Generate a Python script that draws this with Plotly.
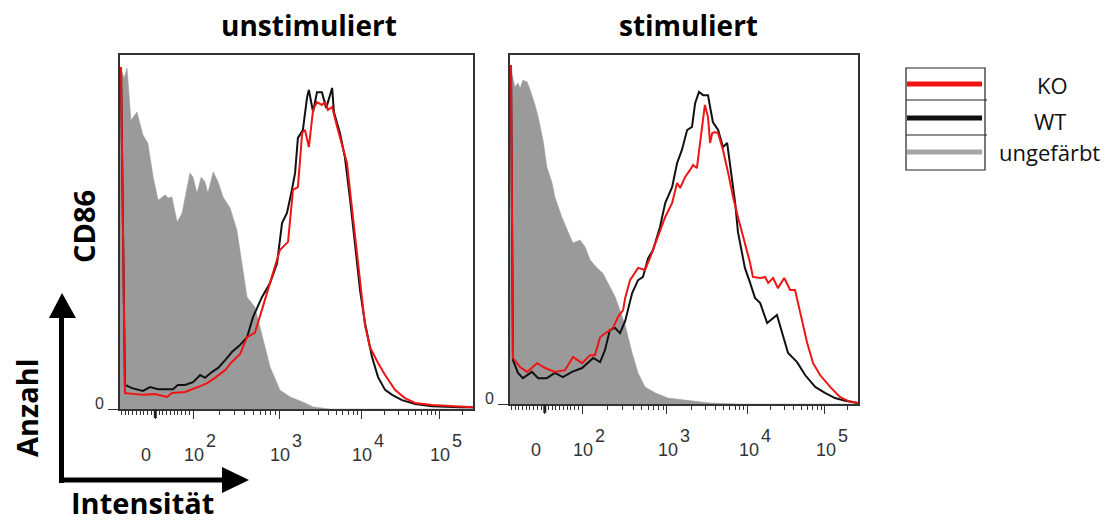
import math
import plotly.graph_objects as go

W, H = 1118, 524

# ---------------- data (x: logicle display channel 0..1000, y: % of max) ----------------
LEFT_GRAY_X = [0, 12, 20, 31, 48, 65, 79, 94, 108, 128, 136, 147, 162, 176, 198, 207, 218, 230, 241, 249,
               264, 278, 292, 312, 331, 340, 360, 382, 397, 411, 425, 453, 482, 518, 547, 595, 1000]
LEFT_GRAY_Y = [96.6, 93.5, 96.3, 81.6, 83.9, 77.4, 75.1, 65.5, 59.0, 60.5, 59.6, 59.9, 52.8, 55.4, 66.7, 65.5, 61.0,
               65.5, 64.1, 61.0, 67.0, 64.1, 59.9, 56.8, 50.6, 44.9, 31.6, 28.8, 23.2, 17.5, 11.9, 5.4, 3.4, 2.0,
               0.6, 0, 0]

LEFT_WT_X = [2.8, 14, 34, 65, 85, 108, 150, 164, 184, 207, 227, 241, 261, 278, 298, 317, 340, 360, 377, 402,
             425, 445, 459, 473, 487, 496, 504, 518, 530, 535, 547, 558, 572, 584, 601, 606, 623, 637, 652, 666,
             680, 694, 714, 731, 751, 771, 799, 836, 884, 963, 1000]
LEFT_WT_Y = [96.6, 6.8, 5.9, 5.1, 6.2, 5.6, 5.6, 6.8, 6.8, 7.6, 9.6, 8.8, 10.5, 11.6, 13.8, 16.1, 18.1, 20.3, 26.0,
             31.6, 35.6, 41.2, 52.5, 55.4, 61.9, 66.7, 76.6, 78.8, 88.1, 90.1, 83.9, 89.5, 89.5, 85.0, 90.7, 83.9,
             78.0, 71.2, 59.0, 45.8, 33.6, 24.3, 14.7, 9.0, 5.4, 4.0, 2.5, 1.4, 0.8, 0.5, 0.5]

LEFT_KO_X = [2.8, 14, 43, 65, 99, 133, 147, 184, 221, 247, 269, 298, 317, 340, 360, 382, 402, 425, 453, 476,
             490, 504, 516, 524, 535, 547, 558, 572, 581, 589, 601, 615, 623, 643, 660, 674, 694, 708, 731, 751,
             779, 807, 836, 884, 941, 1000]
LEFT_KO_Y = [96.6, 4.5, 4.2, 4.0, 4.2, 3.4, 4.5, 4.8, 6.2, 7.3, 8.8, 11.0, 13.3, 15.5, 20.3, 21.5, 28.0, 35.6,
             44.9, 47.2, 61.9, 62.7, 78.0, 78.8, 74.0, 84.5, 86.7, 85.9, 86.7, 84.5, 85.3, 79.7, 76.8, 69.5, 54.2,
             41.2, 23.7, 17.5, 13.0, 9.6, 5.4, 3.1, 1.7, 1.1, 0.8, 0.5]

RIGHT_GRAY_X = [0, 14, 23, 29, 37, 49, 58, 72, 81, 95, 106, 121, 129, 149, 167, 181, 201, 216, 230, 250,
                267, 282, 302, 316, 331, 351, 368, 388, 417, 454, 503, 575, 661, 1000]
RIGHT_GRAY_Y = [97.1, 90.8, 92.0, 90.5, 92.8, 92.3, 90.0, 85.7, 82.2, 75.6, 67.9, 63.3, 59.3, 53.6, 49.3, 46.1,
                47.0, 45.0, 41.3, 39.0, 37.5, 34.7, 30.7, 26.9, 22.6, 14.6, 8.9, 4.9, 3.2, 1.7, 1.1, 0.3, 0, 0]

RIGHT_WT_X = [2.9, 8.6, 23, 37, 63, 81, 106, 129, 152, 178, 207, 239, 259, 273, 287, 302, 316, 331, 351, 368,
              382, 397, 411, 431, 446, 466, 480, 494, 509, 523, 532, 543, 555, 569, 575, 583, 598, 612, 624, 638,
              647, 655, 670, 675, 690, 704, 719, 739, 767, 785, 799, 825, 848, 877, 905, 934, 963, 1000]
RIGHT_WT_Y = [97.1, 12.6, 8.9, 7.4, 9.2, 7.4, 7.4, 8.9, 7.7, 9.2, 10.3, 13.2, 12.0, 15.5, 21.2, 21.8, 20.3, 23.8,
              31.8, 35.5, 36.4, 41.8, 44.1, 50.7, 57.6, 62.2, 69.0, 72.8, 78.5, 79.4, 86.2, 89.4, 88.5, 88.5, 85.1,
              80.8, 78.5, 73.6, 74.8, 64.2, 57.6, 49.3, 41.8, 39.0, 34.7, 30.4, 28.9, 23.2, 25.5, 19.2, 14.6, 12.0,
              8.3, 4.9, 3.2, 1.7, 0.9, 0.3]

RIGHT_KO_X = [2.9, 8.6, 29, 49, 78, 101, 129, 158, 181, 207, 230, 244, 259, 279, 296, 310, 325, 331, 345, 368,
              388, 402, 425, 446, 466, 480, 489, 503, 517, 526, 537, 546, 552, 560, 569, 575, 581, 589, 598, 612,
              627, 641, 655, 670, 675, 690, 698, 719, 733, 742, 756, 770, 788, 805, 819, 834, 854, 871, 891, 920,
              948, 971, 1000]
RIGHT_KO_Y = [97.1, 13.2, 10.6, 9.2, 11.7, 10.3, 9.2, 9.7, 13.5, 11.7, 14.0, 14.0, 19.2, 20.6, 21.8, 24.9, 26.9,
              30.4, 35.5, 39.0, 38.4, 41.8, 47.8, 53.6, 57.6, 63.3, 61.9, 65.0, 67.0, 68.5, 67.6, 75.1, 79.4, 85.7,
              82.2, 74.8, 77.6, 77.9, 77.6, 72.8, 66.2, 59.3, 53.6, 47.8, 45.6, 40.4, 36.4, 36.1, 36.4, 34.7, 36.1,
              33.2, 36.1, 32.7, 32.7, 26.1, 17.5, 11.7, 8.3, 4.9, 2.0, 0.9, 0.3]

# axis ticks (display channel of 0, 10^2 ... 10^5)
TICK_CH = [100, 207, 451, 683, 904]
TICK_BASE = ["0", "10", "10", "10", "10"]
TICK_EXP = ["", "2", "3", "4", "5"]

TITLES = ["unstimuliert", "stimuliert"]
LEGEND_NAMES = ["KO", "WT", "ungefärbt"]

# ---------------- styling ----------------
GRAY = "#9a9a9a"
BLACK = "#111111"
RED = "#f01414"
AX = "#333333"
TICKFONT = dict(family="Liberation Sans, Arial", size=18, color="#333333")
BOLD = "Open Sans"


def px(x):
    return x / W


def py(y):
    return 1 - y / H


# minor ticks: linear around zero, log-spaced within decades
minor = []
step = (TICK_CH[1] - TICK_CH[0]) / 10
for m in range(1, 10):
    for v in (TICK_CH[0] - m * step, TICK_CH[0] + m * step):
        if 0 <= v <= 1000:
            minor.append(v)
for k in range(1, len(TICK_CH) - 1):
    a, b = TICK_CH[k], TICK_CH[k + 1]
    for m in range(2, 10):
        minor.append(a + math.log10(m) * (b - a))
last = TICK_CH[-1] - TICK_CH[-2]
for m in range(2, 10):
    v = TICK_CH[-1] + math.log10(m) * last
    if v <= 1000:
        minor.append(v)

fig = go.Figure()

panels = [
    ("x", "y", LEFT_GRAY_X, LEFT_GRAY_Y, LEFT_WT_X, LEFT_WT_Y, LEFT_KO_X, LEFT_KO_Y),
    ("x2", "y2", RIGHT_GRAY_X, RIGHT_GRAY_Y, RIGHT_WT_X, RIGHT_WT_Y, RIGHT_KO_X, RIGHT_KO_Y),
]
for xa, ya, gx, gy, wx, wy, kx, ky in panels:
    fig.add_trace(go.Scatter(x=gx, y=gy, mode="lines", fill="tozeroy", fillcolor=GRAY,
                             line=dict(color=GRAY, width=0.5), xaxis=xa, yaxis=ya,
                             name=LEGEND_NAMES[2], hoverinfo="skip"))
    fig.add_trace(go.Scatter(x=wx, y=wy, mode="lines", line=dict(color=BLACK, width=2),
                             xaxis=xa, yaxis=ya, name=LEGEND_NAMES[1]))
    fig.add_trace(go.Scatter(x=kx, y=ky, mode="lines", line=dict(color=RED, width=2),
                             xaxis=xa, yaxis=ya, name=LEGEND_NAMES[0]))

xcommon = dict(range=[0, 1000], showline=True, mirror=True, linecolor=AX, linewidth=1.5,
               ticks="outside", tickmode="array", tickvals=TICK_CH, ticklen=8, tickwidth=1.3, tickcolor=AX,
               showticklabels=False, showgrid=False, zeroline=False, fixedrange=True,
               minor=dict(tickmode="array", tickvals=minor, ticks="outside", ticklen=4, tickwidth=1,
                          tickcolor=AX, showgrid=False))
ycommon = dict(range=[0, 100], showline=True, mirror=True, linecolor=AX, linewidth=1.5,
               ticks="outside", tickmode="array", tickvals=[0], ticklen=10, tickwidth=1.3, tickcolor=AX,
               showticklabels=False, showgrid=False, zeroline=False, fixedrange=True)

fig.update_layout(
    width=W, height=H, margin=dict(l=0, r=0, t=0, b=0),
    paper_bgcolor="white", plot_bgcolor="white", showlegend=False,
    xaxis=dict(domain=[px(120), px(473)], anchor="y", **xcommon),
    yaxis=dict(domain=[py(409), py(55)], anchor="x", **ycommon),
    xaxis2=dict(domain=[px(510), px(858)], anchor="y2", **xcommon),
    yaxis2=dict(domain=[py(404), py(55)], anchor="x2", **ycommon),
)

ann = []
shapes = []
for xa, ya, title, tx in [("x", "y", TITLES[0], 309), ("x2", "y2", TITLES[1], 688)]:
    # tick labels
    for pos, base, exp in zip(TICK_CH, TICK_BASE, TICK_EXP):
        ann.append(dict(text=base, x=pos, xref=xa, y=0, yref=ya + " domain", xanchor="center",
                        yanchor="middle", xshift=(-9 if exp == "" else 1), yshift=-46,
                        showarrow=False, font=TICKFONT))
        if exp:
            ann.append(dict(text=exp, x=pos, xref=xa, y=0, yref=ya + " domain", xanchor="center",
                            yanchor="middle", xshift=18, yshift=-32, showarrow=False, font=TICKFONT))
    # y zero label
    ann.append(dict(text="0", x=0, xref=xa + " domain", y=0, yref=ya, xanchor="center", yanchor="middle",
                    xshift=-21, yshift=6, showarrow=False,
                    font=dict(family="Liberation Sans, Arial", size=16, color="#333333")))
    # panel title
    ann.append(dict(text="<b>%s</b>" % title, x=px(tx), y=py(25), xref="paper", yref="paper",
                    xanchor="center", yanchor="middle", showarrow=False,
                    font=dict(family=BOLD, size=28, color="black")))
    # thick zero tick
    shapes.append(dict(type="line", xref=xa, yref=ya + " domain", x0=TICK_CH[0], x1=TICK_CH[0],
                       y0=0, y1=-9 / 354, line=dict(color="#222222", width=3)))

# axis captions
for txt, xx, yy, ang in (("CD86", 83, 227, -90), ("Anzahl", 26, 408, -90), ("Intensität", 142, 502, 0)):
    ann.append(dict(text="<b>%s</b>" % txt, x=px(xx), y=py(yy), xref="paper", yref="paper",
                    xanchor="center", yanchor="middle", textangle=ang, showarrow=False,
                    font=dict(family=BOLD, size=29, color="black")))

# arrows
shapes.append(dict(type="line", xref="paper", yref="paper", x0=px(61.5), x1=px(61.5), y0=py(483), y1=py(316),
                   line=dict(color="black", width=5)))
shapes.append(dict(type="line", xref="paper", yref="paper", x0=px(59), x1=px(224), y0=py(480), y1=py(480),
                   line=dict(color="black", width=5)))
shapes.append(dict(type="path", xref="paper", yref="paper",
                   path="M %f,%f L %f,%f L %f,%f Z" % (px(62), py(293), px(49), py(318), px(76), py(318)),
                   fillcolor="black", line=dict(width=0)))
shapes.append(dict(type="path", xref="paper", yref="paper",
                   path="M %f,%f L %f,%f L %f,%f Z" % (px(249), py(480), px(222), py(467), px(222), py(493)),
                   fillcolor="black", line=dict(width=0)))

# legend box
shapes.append(dict(type="rect", xref="paper", yref="paper", x0=px(906), x1=px(985), y0=py(170), y1=py(68),
                   line=dict(color="#222222", width=1.2), fillcolor="rgba(0,0,0,0)"))
for yy in (100, 135):
    shapes.append(dict(type="line", xref="paper", yref="paper", x0=px(906), x1=px(987), y0=py(yy), y1=py(yy),
                       line=dict(color="#222222", width=1.2)))
for yy, col in ((84, RED), (118, BLACK), (152, "#a6a6a6")):
    shapes.append(dict(type="line", xref="paper", yref="paper", x0=px(907), x1=px(982), y0=py(yy), y1=py(yy),
                       line=dict(color=col, width=5)))
for name, xx, yy in zip(LEGEND_NAMES, (1052, 1050, 1049), (85, 121, 152)):
    ann.append(dict(text=name, x=px(xx), y=py(yy), xref="paper", yref="paper", xanchor="center",
                    yanchor="middle", showarrow=False,
                    font=dict(family="Open Sans", size=22, color="#111111")))

fig.update_layout(annotations=ann, shapes=shapes)
fig.write_html("out.html")
